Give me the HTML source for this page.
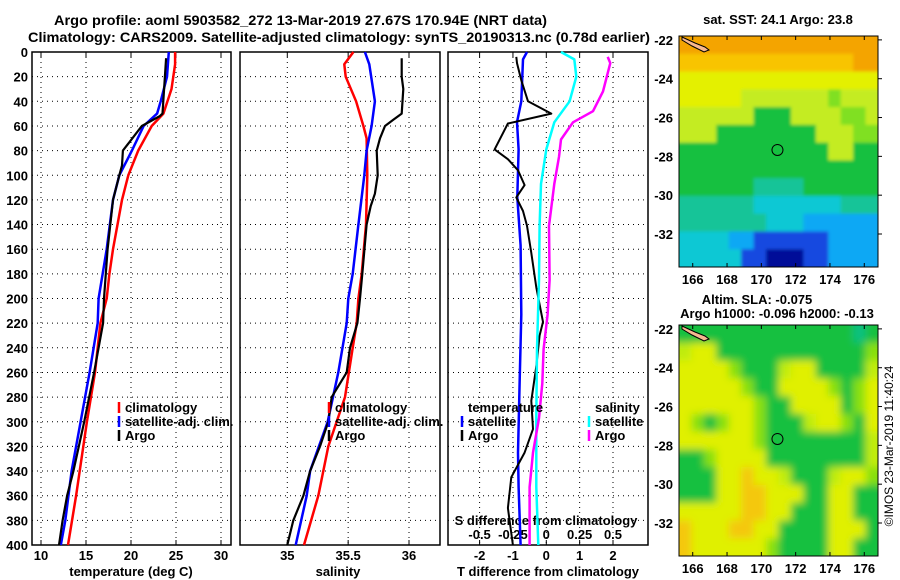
<!DOCTYPE html>
<html><head><meta charset="utf-8"><style>
html,body{margin:0;padding:0;background:#fff;}
svg{display:block;font-family:"Liberation Sans",Arial,sans-serif;font-weight:bold;}
</style></head><body>
<svg id="chart" width="900" height="580" viewBox="0 0 900 580" xmlns="http://www.w3.org/2000/svg">
<defs>
<filter id="blurS" x="-5%" y="-5%" width="110%" height="110%"><feGaussianBlur stdDeviation="1.5"/></filter>
<filter id="blurL" x="-5%" y="-5%" width="110%" height="110%"><feGaussianBlur stdDeviation="4"/></filter>
<clipPath id="clip1"><rect x="679" y="36" width="199" height="231"/></clipPath>
<clipPath id="clip2"><rect x="679" y="325" width="199" height="231"/></clipPath>
</defs>
<rect width="900" height="580" fill="#fff"/>
<text x="54" y="25" font-size="14" textLength="493" lengthAdjust="spacingAndGlyphs">Argo profile: aoml 5903582_272 13-Mar-2019 27.67S 170.94E (NRT data)</text>
<text x="28" y="42" font-size="14" textLength="622" lengthAdjust="spacingAndGlyphs">Climatology: CARS2009. Satellite-adjusted climatology: synTS_20190313.nc (0.78d earlier)</text>
<g id="g"></g>
</svg>
<script>
// ---- data ----
const tClimDepth=[0,10,30,50,60,80,100,120,140,160,180,200,220,260,300,340,360,400];
const tClimVal=[24.9,24.9,24.5,23.6,22.3,20.8,19.7,19.0,18.5,18.0,17.6,17.3,16.6,16.0,15.1,14.3,13.9,13.0];
const tSatDepth=[0,20,40,50,60,80,100,120,160,200,220,260,300,340,380,400];
const tSatVal=[24.2,24.0,23.3,22.9,21.4,20.1,18.7,18.0,17.3,16.4,16.3,15.4,14.4,13.4,12.7,12.2];
const tArgoDepth=[5,50,52,60,80,92,100,120,160,200,220,260,300,340,360,380,400];
const tArgoVal=[23.9,23.5,23.2,21.2,19.1,19.0,18.7,18.0,17.4,17.0,16.9,15.9,14.8,13.6,12.9,12.4,12.0];
const sClimDepth=[0,10,20,40,60,70,100,140,180,200,220,240,280,320,360,400];
const sClimVal=[35.543,35.468,35.48,35.565,35.625,35.652,35.657,35.647,35.611,35.584,35.57,35.537,35.474,35.337,35.255,35.137];
const sSatDepth=[0,10,40,60,80,100,140,180,200,220,260,300,340,360,400];
const sSatVal=[35.638,35.674,35.72,35.693,35.652,35.633,35.584,35.537,35.501,35.488,35.419,35.332,35.187,35.159,35.069];
const sArgoDepth=[5,20,30,50,55,60,70,80,100,115,125,140,180,200,220,240,260,280,300,320,340,360,380,400];
const sArgoVal=[35.94,35.94,35.953,35.94,35.871,35.803,35.762,35.735,35.743,35.72,35.685,35.652,35.616,35.597,35.576,35.515,35.488,35.365,35.337,35.269,35.187,35.132,35.049,35.0];
const dTSatDepth=[0,6,40,57,79,118,157,213,269,325,353,400];
const dTSatVal=[-0.58,-0.7,-0.75,-0.88,-0.83,-0.87,-0.77,-0.75,-0.8,-0.85,-0.83,-0.77];
const dTArgoDepth=[4,9,23,40,50,58,79,87,96,108,118,129,141,163,191,219,230,255,283,306,325,345,370,400];
const dTArgoVal=[-0.9,-0.88,-0.75,-0.55,0.15,-1.15,-1.55,-1.15,-0.85,-0.65,-0.9,-0.7,-0.58,-0.45,-0.3,-0.1,-0.2,-0.3,-0.45,-0.4,-0.65,-1.05,-1.15,-1.0];
const dSSatDepth=[0,6,20,40,57,79,107,141,185,241,297,353,400];
const dSSatVal=[0.11,0.21,0.225,0.175,0.06,0,-0.04,-0.05,-0.055,-0.07,-0.075,-0.075,-0.06];
const dSArgoDepth=[4,9,32,48,57,71,85,107,141,185,213,241,269,297,325,353,400];
const dSArgoVal=[0.46,0.48,0.425,0.35,0.2,0.11,0.095,0.06,0.02,0.025,0.01,-0.02,-0.03,-0.055,-0.1,-0.125,-0.125];
const depthTicks=[0,20,40,60,80,100,120,140,160,180,200,220,240,260,280,300,320,340,360,380,400];
const tTicks=[10,15,20,25,30];
const sTicks=[35,35.5,36];
const sTickLabels=["35","35.5","36"];
const dTTicks=[-2,-1,0,1,2];
const dSTicks=[-0.5,-0.25,0,0.25,0.5];
const dSTickLabels=["-0.5","-0.25","0","0.25","0.5"];
const lonTicks=[166,168,170,172,174,176];
const latTicks=[-22,-24,-26,-28,-30,-32];
const sstGrid=[
"OOOOOOOOOOOOOOOO","ooooooooooooooOO","YYYYYYYYYYYYYYYY","YYYYYyyyyyyygyyy","yyyyyyGGGyyyyggy",
"yyyGGGGGGGGyyygg","GGGGGGGGGGGGyyGG","GGGGGGGGGGGGGGGG","GGGGGGTTTTGGGGGG","TTTTTTCCCCCCCTTT",
"TTTTTTTCCCBBBBBB","CCCCBBbbbbbbBBBB","CCCCCbbNNNbbBBBB"];
const slaGrid=[
"GGGGGGGGGGGGGGTG","yYYGGGGGGGGGGGGg","YYYYgGGGyYYGGGGy","YYYYYgGGYYYYgGgY","YYYYYYgGGYYYYGgY",
"YgGgYYgGGGyYYgGY","YYYYYYgGGGGGGGGy","GGgYYYYGGGGGGGGy","GGGYYoYYyGGGyYYg","GGGYYooYYYGGYYGG",
"YYYYYooYYGGGYYGG","oYYYooYYGGGGYYYG","oYYYYYYgGGGGYYGG"];
const argoLon=170.94, argoLat=-27.67;

// ---- helpers ----
const NS="http://www.w3.org/2000/svg";
const G=document.getElementById('g');
function mk(tag,attrs,parent){const e=document.createElementNS(NS,tag);for(const k in attrs)e.setAttribute(k,attrs[k]);(parent||G).appendChild(e);return e;}
const top0=52,bot0=545;
const yD=d=>top0+d*(bot0-top0)/400;
const lin=(d0,d1,r0,r1)=>v=>r0+(v-d0)*(r1-r0)/(d1-d0);
const xT=lin(10,30,41,221);
const xS=lin(35,36,287.3,409);
const xDT=lin(0,2,546.3,613);
const xDS=lin(0,0.5,546.3,613);
const panels=[{x0:32,x1:231,name:'temperature'},{x0:240,x1:440,name:'salinity'},{x0:448,x1:648,name:'difference'}];

panels.forEach((p,i)=>{
  const r=mk('rect',{x:p.x0,y:top0,width:p.x1-p.x0,height:bot0-top0,fill:'none',stroke:'#000','stroke-width':1.5});
  
  
  depthTicks.forEach(d=>{
    if(d>0&&d<400){const l=mk('line',{x1:p.x0,x2:p.x1,y1:yD(d),y2:yD(d),stroke:'#000','stroke-width':1,'stroke-dasharray':'1 4'});
    
    }
  });
});
depthTicks.forEach(d=>{
  const t=mk('text',{x:28,y:yD(d)+5,'font-size':13,'text-anchor':'end'});t.textContent=d;
  
  
});
function vgrid(xs,fn,p){xs.forEach(v=>{const x=fn(v);const l=mk('line',{x1:x,x2:x,y1:top0,y2:bot0,stroke:'#000','stroke-width':1,'stroke-dasharray':'1 4'});
  
  
  mk('line',{x1:x,x2:x,y1:bot0,y2:bot0-5,stroke:'#000'});mk('line',{x1:x,x2:x,y1:top0,y2:top0+5,stroke:'#000'});});}
vgrid(tTicks,xT);vgrid(sTicks,xS);vgrid(dTTicks,xDT);
function xlabels(vals,labels,fn,y,name){vals.forEach((v,i)=>{const t=mk('text',{x:fn(v),y:y,'font-size':13,'text-anchor':'middle'});t.textContent=labels[i];
  
  });}
xlabels(tTicks,tTicks.map(String),xT,560,'temperature-tick-label');
xlabels(sTicks,sTickLabels,xS,560,'salinity-tick-label');
xlabels(dTTicks,dTTicks.map(String),xDT,560,'t-difference-tick-label');
xlabels(dSTicks,dSTickLabels,xDS,539,'s-difference-tick-label');
function title(x,y,s,name){const t=mk('text',{x:x,y:y,'font-size':13,'text-anchor':'middle'});t.textContent=s;
  
  }
title(131,576,'temperature (deg C)','x-axis-title-temperature');
title(338,576,'salinity','x-axis-title-salinity');
title(548,576,'T difference from climatology','x-axis-title-t-difference');
title(546,525,'S difference from climatology','s-difference-axis-title');

function series(ds,vs,fn,color,w,name){
  const pts=ds.map((d,i)=>fn(vs[i]).toFixed(1)+','+yD(d).toFixed(1)).join(' ');
  const l=mk('polyline',{points:pts,fill:'none',stroke:color,'stroke-width':w,'stroke-linejoin':'round'});
  
  
}
series(tClimDepth,tClimVal,xT,'#ff0000',2.5,'temperature-climatology-line');
series(tSatDepth,tSatVal,xT,'#0000ff',2.5,'temperature-satellite-line');
series(tArgoDepth,tArgoVal,xT,'#000',2.2,'temperature-argo-line');
series(sClimDepth,sClimVal,xS,'#ff0000',2.5,'salinity-climatology-line');
series(sSatDepth,sSatVal,xS,'#0000ff',2.5,'salinity-satellite-line');
series(sArgoDepth,sArgoVal,xS,'#000',2.2,'salinity-argo-line');
series(dTSatDepth,dTSatVal,xDT,'#0000ff',2.5,'t-diff-satellite-line');
series(dTArgoDepth,dTArgoVal,xDT,'#000',2,'t-diff-argo-line');
series(dSSatDepth,dSSatVal,xDS,'#00ffff',2.5,'s-diff-satellite-line');
series(dSArgoDepth,dSArgoVal,xDS,'#ff00ff',2.5,'s-diff-argo-line');

function legend(x,y,items,name){items.forEach((it,i)=>{
  const yy=y+i*14;
  if(it[1]){mk('line',{x1:x,x2:x,y1:yy-10,y2:yy+1,stroke:it[1],'stroke-width':2.5});}
  const t=mk('text',{x:x+6,y:yy,'font-size':13});t.textContent=it[0];
  
  
});}
legend(119,412,[['climatology','#f00'],['satellite-adj. clim.','#00f'],['Argo','#000']],'temp-legend');
legend(329,412,[['climatology','#f00'],['satellite-adj. clim.','#00f'],['Argo','#000']],'sal-legend');
legend(462,412,[['temperature',null],['satellite','#00f'],['Argo','#000']],'tdiff-legend');
legend(589,412,[['salinity',null],['satellite','#0ff'],['Argo','#f0f']],'sdiff-legend');

// ---- maps ----
const pal={O:'#f4a400',o:'#f8c400',Y:'#e4f000',y:'#c4ec20',g:'#80e020',G:'#14c040',D:'#10b050',T:'#18c498',C:'#10c8d4',B:'#10a8f4',b:'#1848e0',N:'#001098'};
const pal2={O:'#f4a400',o:'#f4c810',Y:'#e0f000',y:'#c0ec10',g:'#88e010',G:'#18c040',T:'#10c080'};
function map(y0,y1,grid,colors,name,top,bottom,clip,filt){
  const x0=679,x1=878;
  const lonF=lin(165.2,176.8,x0,x1), latF=lin(top,bottom,y0,y1);
  const rows=grid.length, cols=grid[0].length, cw=(x1-x0)/cols, rh=(y1-y0)/rows;
  const outer=mk('g',{'clip-path':'url(#'+clip+')'});
  
  
  const gr=mk('g',{filter:'url(#'+filt+')'},outer);
  grid.forEach((row,r)=>{for(let c=0;c<cols;c++){
    const pad=10;
    const rx=x0+c*cw-(c===0?pad:0), ry=y0+r*rh-(r===0?pad:0);
    const w=cw+0.5+(c===0?pad:0)+(c===cols-1?pad:0), h=rh+0.5+(r===0?pad:0)+(r===rows-1?pad:0);
    mk('rect',{x:rx,y:ry,width:w,height:h,fill:colors[row[c]]},gr);}});
  mk('path',{d:`M${x0+3},${y0+1} L${x0+16},${y0+7} L${x0+26},${y0+11} L${x0+30},${y0+14} L${x0+25},${y0+16} L${x0+13},${y0+10} L${x0+3},${y0+4} Z`,fill:'#f8b890',stroke:'#000','stroke-width':1},outer);
  const c=mk('circle',{cx:lonF(argoLon),cy:latF(argoLat),r:5.5,fill:'none',stroke:'#000','stroke-width':1});
  
  
  mk('rect',{x:x0,y:y0,width:x1-x0,height:y1-y0,fill:'none',stroke:'#000','stroke-width':1});
  latTicks.forEach(l=>{const y=latF(l);mk('line',{x1:x1,x2:x1+4,y1:y,y2:y,stroke:'#000'});
    const t=mk('text',{x:673,y:y+5,'font-size':13,'text-anchor':'end'});t.textContent=l;
    
    });
  lonTicks.forEach(l=>{const x=lonF(l);mk('line',{x1:x,x2:x,y1:y1,y2:y1-4,stroke:'#000'});mk('line',{x1:x,x2:x,y1:y0,y2:y0+4,stroke:'#000'});
    const t=mk('text',{x:x,y:y1+17,'font-size':13,'text-anchor':'middle'});t.textContent=l;
    
    });
}
map(36,267,sstGrid,pal,'sst-map',-21.8,-33.7,'clip1','blurS');
map(325,556,slaGrid,pal2,'sla-map',-21.8,-33.7,'clip2','blurL');
title(778,24,'sat. SST: 24.1 Argo: 23.8','sst-map-title');
title(757,304,'Altim. SLA: -0.075','sla-map-title');
title(777,318,'Argo h1000: -0.096 h2000: -0.13','argo-height-title');
const cr=mk('text',{x:0,y:0,'font-size':12,'font-weight':'normal','text-anchor':'middle',transform:'translate(893,446) rotate(-90)'});
cr.textContent='©IMOS 23-Mar-2019 11:40:24';


</script>
</body></html>
